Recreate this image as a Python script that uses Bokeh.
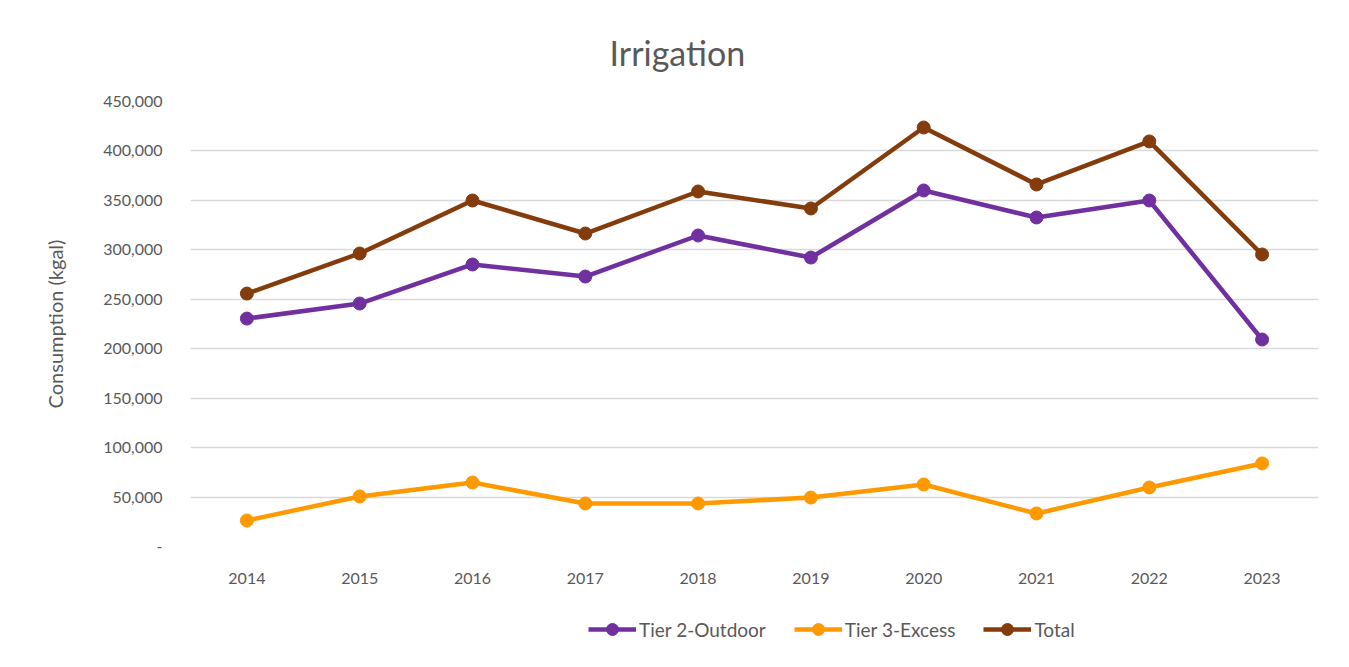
from bokeh.plotting import figure
from bokeh.layouts import column
from bokeh.models import FactorRange, Range1d, NumeralTickFormatter, Legend, LegendItem
from bokeh.embed import file_html
from bokeh.resources import INLINE

years = ["2014", "2015", "2016", "2017", "2018", "2019", "2020", "2021", "2022", "2023"]
tier2_outdoor = [230500, 245700, 285200, 273000, 314500, 292200, 360000, 332700, 349900, 209300]
tier3_excess = [26300, 50600, 64700, 43500, 43500, 49500, 62700, 33400, 59700, 84000]
total = [255800, 296300, 349900, 316500, 359000, 341800, 423700, 366100, 409600, 295300]

series_names = ["Tier 2-Outdoor", "Tier 3-Excess", "Total"]
series_colors = ["#7030A0", "#FF9900", "#843C0C"]
series_values = [tier2_outdoor, tier3_excess, total]
FONT = "Lato"
TXT = "#595959"

p = figure(frame_width=1128, frame_height=445, output_backend="svg", toolbar_location=None,
           x_range=FactorRange(*years, range_padding=0), y_range=Range1d(0, 450000),
           min_border_left=190, min_border_right=23, min_border_top=101, min_border_bottom=50)

p.title.text = "Irrigation"
p.title.align = "left"
p.title.offset = 419
p.title.text_font = FONT
p.title.text_font_size = "34px"
p.title.text_font_style = "normal"
p.title.text_color = TXT
p.title.standoff = 58

p.outline_line_color = None
p.xgrid.grid_line_color = None
p.ygrid.grid_line_color = "#D9D9D9"
p.ygrid.grid_line_width = 1.5

p.yaxis.ticker = list(range(0, 450001, 50000))
p.yaxis.formatter = NumeralTickFormatter(format="0,0")
p.yaxis.major_label_overrides = {0: "-"}
p.yaxis.axis_line_color = None
p.yaxis.major_tick_line_color = None
p.yaxis.minor_tick_line_color = None
p.yaxis.major_label_text_font = FONT
p.yaxis.major_label_text_font_size = "16px"
p.yaxis.major_label_text_color = TXT
p.yaxis.major_label_standoff = 22
p.yaxis.axis_label = "Consumption (kgal)"
p.yaxis.axis_label_text_font = FONT
p.yaxis.axis_label_text_font_size = "20px"
p.yaxis.axis_label_text_font_style = "normal"
p.yaxis.axis_label_text_color = TXT
p.yaxis.axis_label_standoff = 33

p.xaxis.axis_line_color = None
p.xaxis.major_tick_line_color = None
p.xaxis.minor_tick_line_color = None
p.xaxis.major_label_text_font = FONT
p.xaxis.major_label_text_font_size = "16px"
p.xaxis.major_label_text_color = TXT
p.xaxis.major_label_standoff = 20

for vals, col in zip(series_values, series_colors):
    p.line(years, vals, line_color=col, line_width=4.5)
    p.scatter(years, vals, size=13, fill_color=col, line_color=col)

# Legend strip below the chart (its renderers lie outside its visible range)
p2 = figure(width=1341, height=67, output_backend="svg", toolbar_location=None,
            x_range=FactorRange(*years, range_padding=0), y_range=Range1d(-2, -1),
            x_axis_location=None, y_axis_location=None,
            min_border_left=0, min_border_right=0, min_border_top=0, min_border_bottom=0)
p2.grid.visible = False
p2.outline_line_color = None

items = []
for name, vals, col in zip(series_names, series_values, series_colors):
    l = p2.line(years, vals, line_color=col, line_width=4.5)
    c = p2.scatter(years, vals, size=13, fill_color=col, line_color=col)
    items.append(LegendItem(label=name, renderers=[l, c]))

legend = Legend(items=items, orientation="horizontal", location=(398, 19),
                label_text_font=FONT, label_text_font_size="19px", label_text_color=TXT,
                border_line_color=None, background_fill_alpha=0,
                glyph_width=48, glyph_height=30, spacing=28, label_standoff=3,
                margin=0, padding=0)
p2.add_layout(legend)

open("out.html", "w").write(file_html(column(p, p2, spacing=0), INLINE))
